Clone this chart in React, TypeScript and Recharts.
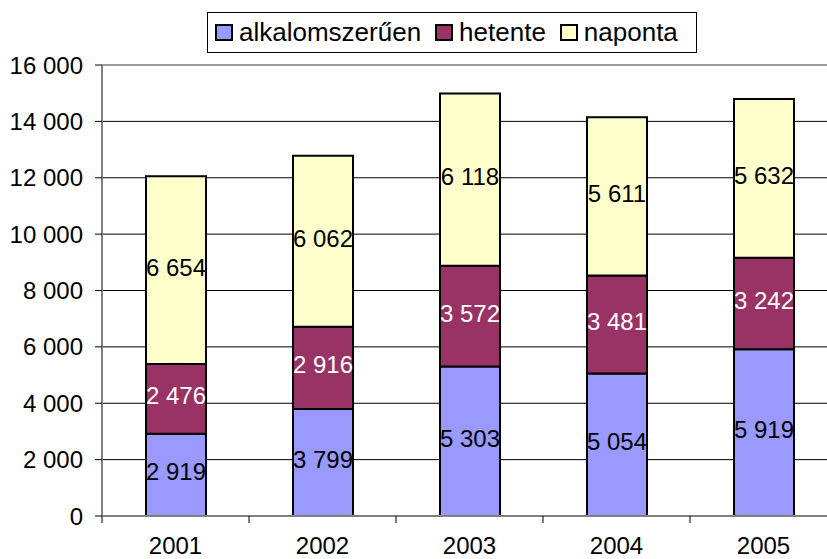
import React from "react";
import {
  BarChart,
  Bar,
  XAxis,
  YAxis,
  CartesianGrid,
  Legend,
  LabelList,
  ReferenceLine,
} from "recharts";

const years = ["2001", "2002", "2003", "2004", "2005"];
const alkalomszeruen = [2919, 3799, 5303, 5054, 5919];
const hetente = [2476, 2916, 3572, 3481, 3242];
const naponta = [6654, 6062, 6118, 5611, 5632];
const yTicks = [0, 2000, 4000, 6000, 8000, 10000, 12000, 14000, 16000];

const series = [
  { key: "alk", name: "alkalomszerűen", color: "#9999FF", text: "#000000" },
  { key: "het", name: "hetente", color: "#993366", text: "#FFFFFF" },
  { key: "nap", name: "naponta", color: "#FFFFCC", text: "#000000" },
];

const data = years.map((y, i) => ({
  year: y,
  alk: alkalomszeruen[i],
  het: hetente[i],
  nap: naponta[i],
}));

const FONT = "'Liberation Sans', Arial, sans-serif";
const CHART_W = 837;
const AXIS_LEFT = 102;
const BAND = (CHART_W - AXIS_LEFT) / years.length;

const fmt = (v: number) =>
  String(v).replace(/\B(?=(\d{3})+(?!\d))/g, " ");

function XTick(props: any) {
  const { x, y, payload, index } = props;
  return (
    <g>
      <line x1={x - BAND / 2} y1={y - 8} x2={x - BAND / 2} y2={y - 1} stroke="#000" />
      {index === years.length - 1 && (
        <line x1={x + BAND / 2} y1={y - 8} x2={x + BAND / 2} y2={y - 1} stroke="#000" />
      )}
      <text
        x={x}
        y={y + 30}
        textAnchor="middle"
        fontSize={24}
        fontFamily={FONT}
        fill="#000"
      >
        {payload.value}
      </text>
    </g>
  );
}

function LegendBox() {
  return (
    <div
      style={{
        border: "1px solid #000",
        background: "#fff",
        display: "flex",
        alignItems: "center",
        height: 41,
        boxSizing: "border-box",
        paddingLeft: 7,
        fontFamily: FONT,
        fontSize: 26,
        color: "#000",
        whiteSpace: "nowrap",
      }}
    >
      {series.map((s) => (
        <div key={s.key} style={{ display: "flex", alignItems: "center", marginRight: 14 }}>
          <span
            style={{
              width: 14,
              height: 13,
              border: "2px solid #000",
              background: s.color,
              display: "inline-block",
              marginRight: 6,
            }}
          />
          <span>{s.name}</span>
        </div>
      ))}
    </div>
  );
}

export default function App() {
  return (
    <div
      style={{
        position: "fixed",
        left: 0,
        top: 0,
        width: 827,
        height: 559,
        overflow: "hidden",
        background: "#fff",
      }}
    >
      <BarChart
        width={CHART_W}
        height={559}
        data={data}
        margin={{ top: 65, right: 0, left: 0, bottom: 0 }}
        barSize={60}
      >
        <CartesianGrid vertical={false} stroke="#000" strokeWidth={1} />
        <XAxis
          dataKey="year"
          height={43}
          tickLine={false}
          tick={<XTick />}
          axisLine={{ stroke: "#808080", strokeWidth: 2 }}
        />
        <YAxis
          width={AXIS_LEFT}
          domain={[0, 16000]}
          ticks={yTicks}
          tickFormatter={fmt}
          tickSize={7}
          tickMargin={12}
          tickLine={{ stroke: "#000" }}
          axisLine={{ stroke: "#808080", strokeWidth: 2 }}
          tick={{ fill: "#000", fontSize: 24, fontFamily: FONT }}
          interval={0}
        />
        <ReferenceLine y={16000} stroke="#999" strokeWidth={2} />
        <Legend
          verticalAlign="middle"
          layout="horizontal"
          content={<LegendBox />}
          wrapperStyle={{ top: 12, left: 207, width: 490 }}
        />
        {series.map((s) => (
          <Bar
            key={s.key}
            dataKey={s.key}
            name={s.name}
            stackId="a"
            fill={s.color}
            stroke="#000"
            strokeWidth={2}
            isAnimationActive={false}
          >
            <LabelList
              dataKey={s.key}
              position="center"
              formatter={(v: any) => fmt(Number(v))}
              fill={s.text}
              fontSize={24}
              fontFamily={FONT}
              dy={-3}
            />
          </Bar>
        ))}
      </BarChart>
    </div>
  );
}
